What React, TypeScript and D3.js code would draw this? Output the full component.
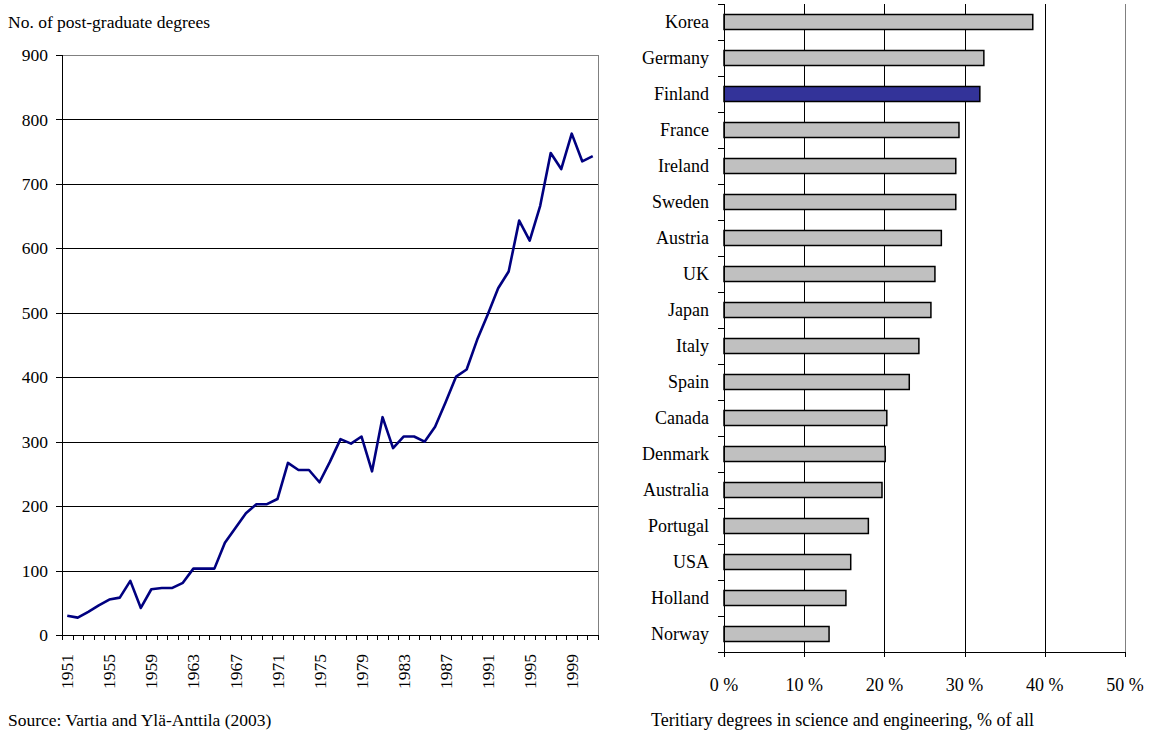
import * as d3 from "d3";

// Left chart: post-graduate degrees per year
const years = d3.range(1951, 2002);
const degrees = [
  30, 27, 36, 46, 55, 58, 84, 42, 71, 73,
  73, 81, 103, 103, 103, 143, 166, 189, 203, 203,
  211, 267, 256, 256, 237, 269, 304, 297, 308, 254,
  338, 290, 308, 308, 300, 323, 361, 401, 412, 458,
  497, 538, 564, 643, 612, 666, 748, 723, 778, 735,
  743,
];
const yearLabels = [1951, 1955, 1959, 1963, 1967, 1971, 1975, 1979, 1983, 1987, 1991, 1995, 1999];
const degreeTicks = [0, 100, 200, 300, 400, 500, 600, 700, 800, 900];

// Right chart: share of tertiary degrees in science & engineering
const countries = [
  "Korea", "Germany", "Finland", "France", "Ireland", "Sweden", "Austria", "UK", "Japan",
  "Italy", "Spain", "Canada", "Denmark", "Australia", "Portugal", "USA", "Holland", "Norway",
];
const shares = [38.5, 32.4, 31.9, 29.3, 28.9, 28.9, 27.1, 26.3, 25.8, 24.3, 23.1, 20.3, 20.1, 19.7, 18.0, 15.8, 15.2, 13.1];
const shareTicks = [0, 10, 20, 30, 40, 50];

const font = "'Liberation Serif', 'Times New Roman', serif";

const LineChart = () => {
  const left = 62, right = 598, top = 55, bottom = 635;
  const x = d3.scaleBand<number>().domain(years).range([left, right]).padding(0);
  const y = d3.scaleLinear().domain([0, 900]).range([bottom, top]);
  const line = d3.line<number>()
    .x((_, i) => (x(years[i]) ?? 0) + x.bandwidth() / 2)
    .y((d) => y(d));

  return (
    <g fontFamily={font} fontSize={17.5} fill="#000">
      <text x={8} y={28}>No. of post-graduate degrees</text>
      {/* grid lines */}
      {degreeTicks.filter((t) => t > 0 && t < 900).map((t) => (
        <line key={t} x1={left} x2={right} y1={Math.round(y(t)) + 0.5} y2={Math.round(y(t)) + 0.5} stroke="#000" strokeWidth={1} />
      ))}
      {/* plot border top/right */}
      <line x1={left} x2={right + 0.5} y1={top + 0.5} y2={top + 0.5} stroke="#808080" />
      <line x1={right + 0.5} x2={right + 0.5} y1={top} y2={bottom} stroke="#808080" />
      {/* y axis */}
      <line x1={left + 0.5} x2={left + 0.5} y1={top} y2={bottom + 0.5} stroke="#000" />
      {degreeTicks.map((t) => (
        <g key={t}>
          <line x1={left - 6} x2={left} y1={Math.round(y(t)) + 0.5} y2={Math.round(y(t)) + 0.5} stroke="#000" />
          <text x={48} y={y(t)} dy="0.35em" textAnchor="end">{t}</text>
        </g>
      ))}
      {/* x axis */}
      <line x1={left} x2={right + 1} y1={bottom + 0.5} y2={bottom + 0.5} stroke="#000" />
      {years.concat([2002]).map((yr, i) => {
        const px = Math.round(left + i * x.bandwidth()) + 0.5;
        return <line key={yr} x1={px} x2={px} y1={bottom} y2={bottom + 5} stroke="#000" />;
      })}
      {yearLabels.map((yr) => {
        const cx = (x(yr) ?? 0) + x.bandwidth() / 2;
        return (
          <text key={yr} transform={`translate(${cx},${bottom + 19}) rotate(-90)`} textAnchor="end" dy="0.35em">{yr}</text>
        );
      })}
      <path d={line(degrees) ?? ""} fill="none" stroke="#000080" strokeWidth={2.6} strokeLinejoin="round" />
      <text x={8} y={726}>Source: Vartia and Ylä-Anttila (2003)</text>
    </g>
  );
};

const BarChart = () => {
  const left = 724, right = 1125, top = 4, bottom = 652;
  const x = d3.scaleLinear().domain([0, 50]).range([left, right]);
  const y = d3.scaleBand<string>().domain(countries).range([top, bottom]).padding(0);
  const barH = 15;

  return (
    <g fontFamily={font} fontSize={18} fill="#000">
      {shareTicks.map((t) => {
        const px = Math.round(x(t)) + 0.5;
        return (
          <g key={t}>
            {t > 0 && <line x1={px} x2={px} y1={top} y2={bottom} stroke={t === 50 ? "#808080" : "#000"} />}
            <line x1={px} x2={px} y1={bottom} y2={bottom + 5} stroke="#000" />
            <text x={x(t)} y={691} textAnchor="middle">{t} %</text>
          </g>
        );
      })}
      {countries.map((c, i) => {
        const cy = (y(c) ?? 0) + y.bandwidth() / 2;
        return (
          <g key={c}>
            <rect x={x(0)} y={cy - barH / 2} width={x(shares[i]) - x(0)} height={barH}
              fill={c === "Finland" ? "#333399" : "#C0C0C0"} stroke="#000" strokeWidth={1.5} />
            <text x={709} y={cy} dy="0.32em" textAnchor="end">{c}</text>
          </g>
        );
      })}
      {countries.concat(["_end"]).map((c, i) => {
        const py = Math.round(top + i * y.bandwidth()) + 0.5;
        return <line key={c} x1={left - 6} x2={left} y1={py} y2={py} stroke="#000" />;
      })}
      <line x1={left + 0.5} x2={left + 0.5} y1={top} y2={bottom + 0.5} stroke="#000" />
      <line x1={left - 6} x2={right + 1} y1={bottom + 0.5} y2={bottom + 0.5} stroke="#000" />
      <text x={651} y={726}>Teritiary degrees in science and engineering, % of all</text>
    </g>
  );
};

export default function App() {
  return (
    <svg width={1153} height={730} style={{ position: "absolute", left: 0, top: 0, background: "#fff" }}>
      <rect width={1153} height={730} fill="#fff" />
      <LineChart />
      <BarChart />
    </svg>
  );
}
